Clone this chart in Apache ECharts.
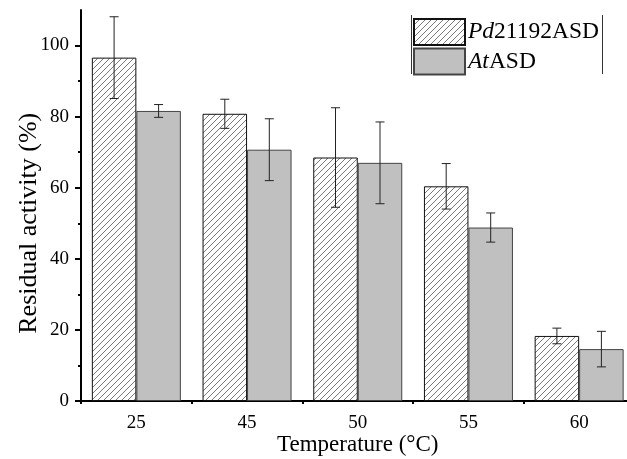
<!DOCTYPE html>
<html>
<head>
<meta charset="utf-8">
<script src="https://cdn.jsdelivr.net/npm/echarts@6/dist/echarts.min.js"></script>
<style>html,body{margin:0;padding:0;background:#fff;}#c{width:627px;height:459px;}</style>
</head>
<body>
<div id="c"></div>
<script>
const categories = ['25', '45', '50', '55', '60'];
const pdValues = [96.6, 80.8, 68.5, 60.4, 18.3];
const pdErrors = [11.5, 4.1, 14.0, 6.4, 2.2];
const atValues = [81.6, 70.7, 67.0, 48.8, 14.6];
const atErrors = [1.8, 8.7, 11.5, 4.1, 5.0];
const yTicks = [0, 20, 40, 60, 80, 100];

const FONT = '"Liberation Serif", "DejaVu Serif", serif';
const BAR_W = 44.5;

function hatch() {
  const s = 6;
  const c = document.createElement('canvas');
  c.width = s; c.height = s;
  const g = c.getContext('2d');
  g.fillStyle = '#ffffff';
  g.fillRect(0, 0, s, s);
  g.strokeStyle = '#7a7a7a';
  g.lineWidth = 1;
  g.beginPath();
  g.moveTo(0, s); g.lineTo(s, 0);
  g.moveTo(-1, 1); g.lineTo(1, -1);
  g.moveTo(s - 1, s + 1); g.lineTo(s + 1, s - 1);
  g.stroke();
  return c;
}

function errRender(values, errors, dir) {
  return function (params, api) {
    const i = api.value(0);
    const v = values[i], e = errors[i];
    const top = api.coord([i, v + e]);
    const bot = api.coord([i, v - e]);
    const x = top[0] + dir * BAR_W / 2;
    const cap = 4.5;
    const style = { stroke: '#222', lineWidth: 1 };
    return {
      type: 'group',
      children: [
        { type: 'line', shape: { x1: x, y1: top[1], x2: x, y2: bot[1] }, style: style },
        { type: 'line', shape: { x1: x - cap, y1: top[1], x2: x + cap, y2: top[1] }, style: style },
        { type: 'line', shape: { x1: x - cap, y1: bot[1], x2: x + cap, y2: bot[1] }, style: style }
      ]
    };
  };
}

const chart = echarts.init(document.getElementById('c'), null, { renderer: 'canvas' });
chart.setOption({
  animation: false,
  backgroundColor: '#ffffff',
  textStyle: { fontFamily: FONT, color: '#000' },
  grid: [
    { left: 81, top: 10, width: 553.5, bottom: 58, containLabel: false, outerBoundsMode: 'none' },
    { left: 81, top: 45.5, width: 553.5, bottom: 58, containLabel: false, outerBoundsMode: 'none' }
  ],
  legend: {
    orient: 'vertical',
    left: 413, top: 18, padding: 0,
    itemWidth: 51, itemHeight: 26, itemGap: 1.5,
    icon: 'rect',
    textStyle: {
      fontFamily: FONT, fontSize: 23.5, color: '#000', padding: [0, 0, 0, -2],
      rich: {
        i: { fontFamily: FONT, fontSize: 23.5, fontStyle: 'italic', color: '#000' },
        n: { fontFamily: FONT, fontSize: 23.5, color: '#000' }
      }
    },
    formatter: function (name) {
      if (name === 'Pd21192ASD') return '{i|Pd}{n|21192ASD}';
      return '{i|At}{n|ASD}';
    },
    data: ['Pd21192ASD', 'AtASD']
  },
  graphic: [
    { type: 'line', shape: { x1: 411.5, y1: 15, x2: 411.5, y2: 74 }, style: { stroke: '#333', lineWidth: 1 } },
    { type: 'line', shape: { x1: 602.5, y1: 15, x2: 602.5, y2: 74 }, style: { stroke: '#333', lineWidth: 1 } }
  ],
  xAxis: [
    {
      type: 'category', gridIndex: 0, data: categories,
      name: 'Temperature (°C)', nameLocation: 'middle', nameGap: 32, nameMoveOverlap: false,
      nameTextStyle: { fontFamily: FONT, fontSize: 23, color: '#000' },
      axisLine: { lineStyle: { color: '#000', width: 2 } },
      axisTick: { alignWithLabel: true, length: 6, lineStyle: { color: '#000', width: 2 } },
      axisLabel: { fontFamily: FONT, fontSize: 19, color: '#000', margin: 13 },
      splitLine: { show: false }
    },
    {
      type: 'category', gridIndex: 0, data: categories, position: 'bottom',
      axisLine: { show: false },
      axisTick: { show: true, length: 3, lineStyle: { color: '#000', width: 2 } },
      axisLabel: { show: false },
      splitLine: { show: false }
    },
    {
      type: 'category', gridIndex: 1, data: categories, show: false
    }
  ],
  yAxis: [
    {
      type: 'value', gridIndex: 0, min: 0, max: 110,
      axisLine: { show: true, lineStyle: { color: '#000', width: 2 } },
      axisTick: { show: false }, axisLabel: { show: false },
      splitLine: { show: false }
    },
    {
      type: 'value', gridIndex: 1, min: yTicks[0], max: yTicks[yTicks.length - 1], interval: 20,
      name: 'Residual activity (%)', nameLocation: 'middle', nameGap: 39, nameMoveOverlap: false,
      nameTextStyle: { fontFamily: FONT, fontSize: 26, color: '#000' },
      axisLine: { show: false },
      axisTick: { show: true, length: 6, lineStyle: { color: '#000', width: 2 } },
      minorTick: { show: true, splitNumber: 2, length: 3, lineStyle: { color: '#000', width: 2 } },
      axisLabel: { fontFamily: FONT, fontSize: 19, color: '#000', margin: 12 },
      splitLine: { show: false }
    }
  ],
  series: [
    {
      name: 'Pd21192ASD', type: 'bar', xAxisIndex: 0, yAxisIndex: 0,
      data: pdValues, barWidth: BAR_W, barGap: '0%',
      itemStyle: { color: { image: hatch(), repeat: 'repeat' }, borderColor: '#111', borderWidth: 1 }
    },
    {
      name: 'AtASD', type: 'bar', xAxisIndex: 0, yAxisIndex: 0,
      data: atValues, barWidth: BAR_W, barGap: '0%',
      itemStyle: { color: '#c0c0c0', borderColor: '#444', borderWidth: 1 }
    },
    {
      type: 'custom', xAxisIndex: 0, yAxisIndex: 0, z: 5,
      data: categories.map((c, i) => [i]),
      renderItem: errRender(pdValues, pdErrors, -1)
    },
    {
      type: 'custom', xAxisIndex: 0, yAxisIndex: 0, z: 5,
      data: categories.map((c, i) => [i]),
      renderItem: errRender(atValues, atErrors, 1)
    }
  ]
});
</script>
</body>
</html>
